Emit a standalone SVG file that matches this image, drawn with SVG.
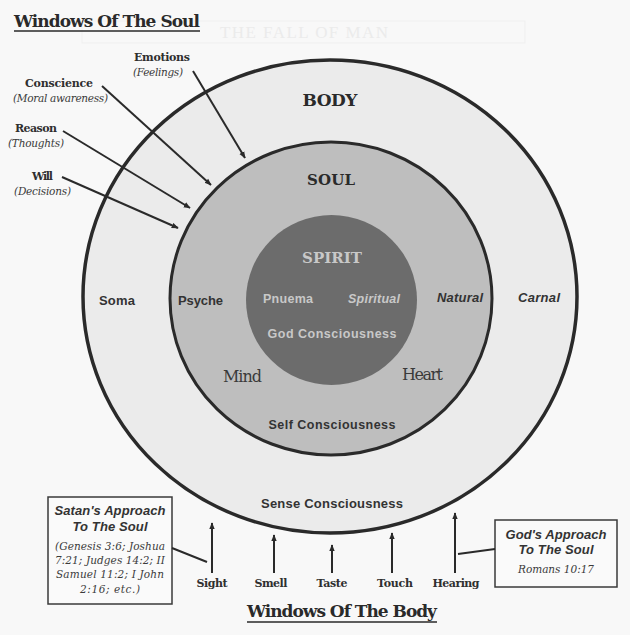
<svg xmlns="http://www.w3.org/2000/svg" width="630" height="635" viewBox="0 0 630 635">
<defs>
<marker id="ah" viewBox="0 0 10 10" refX="9" refY="5" markerWidth="7" markerHeight="7" markerUnits="userSpaceOnUse" orient="auto">
<path d="M0,1 L10,5 L0,9 Z" fill="#2a2a2a"/>
</marker>
<style>
.ttl{font-family:"DejaVu Serif","Liberation Serif",serif;font-weight:bold;fill:#2a2a2a}
.lbl{font-family:"DejaVu Serif","Liberation Serif",serif;font-weight:bold;font-size:11px;fill:#2f2f2f}
.sub{font-family:"DejaVu Serif","Liberation Serif",serif;font-style:italic;font-size:10.5px;fill:#3a3a3a}
.sans{font-family:"Liberation Sans",Arial,sans-serif;font-weight:bold;fill:#333}
.sansi{font-family:"Liberation Sans",Arial,sans-serif;font-weight:bold;font-style:italic;fill:#333}
.serif{font-family:"DejaVu Serif","Liberation Serif",serif;fill:#3a3a3a}
.ln{stroke:#2a2a2a;stroke-width:2;fill:none}
.arr{stroke:#2a2a2a;stroke-width:2;fill:none;marker-end:url(#ah)}
.box{fill:#fafafa;stroke:#3a3a3a;stroke-width:1.5}
.spt{fill:#c8c8c8}
</style>
</defs>
<rect width="630" height="635" fill="#f8f8f8"/>
<g id="faint">
<rect x="82" y="21" width="443" height="22" fill="none" stroke="#efefef" stroke-width="1"/>
<text x="220" y="38" font-family="Liberation Serif,serif" font-size="17" fill="#ebebeb" textLength="168">THE FALL OF MAN</text>
</g>
<g id="title-soul">
<text class="ttl" x="14" y="27" font-size="17" textLength="186">Windows Of The Soul</text>
<line x1="14" y1="31" x2="200" y2="31" stroke="#2a2a2a" stroke-width="1.5"/>
</g>
<g id="body">
<ellipse cx="330" cy="296.5" rx="247" ry="236.5" fill="#ebebeb" stroke="#2a2a2a" stroke-width="3.5"/>
<text class="ttl" x="330" y="106" font-size="17" text-anchor="middle" textLength="55">BODY</text>
<text class="sans" x="99" y="305" font-size="13" textLength="36">Soma</text>
<text class="sansi" x="518" y="302" font-size="13" textLength="42">Carnal</text>
<text class="sans" x="332" y="508" font-size="13" text-anchor="middle" textLength="142">Sense Consciousness</text>
</g>
<g id="soul">
<ellipse cx="331" cy="298.5" rx="161" ry="156.5" fill="#bebebe" stroke="#2a2a2a" stroke-width="3"/>
<text class="ttl" x="331" y="185" font-size="15" text-anchor="middle" fill="#404040" textLength="48">SOUL</text>
<text class="sans" x="178" y="305" font-size="13" textLength="45">Psyche</text>
<text class="sansi" x="437" y="302" font-size="13" textLength="46">Natural</text>
<text class="serif" x="223" y="382" font-size="16" textLength="39">Mind</text>
<text class="serif" x="402" y="380" font-size="16" textLength="41">Heart</text>
<text class="sans" x="332" y="429" font-size="12.5" text-anchor="middle" textLength="127">Self Consciousness</text>
</g>
<g id="spirit">
<ellipse cx="331.5" cy="300" rx="85.5" ry="85" fill="#6c6c6c"/>
<text class="ttl spt" x="332" y="263" font-size="15" text-anchor="middle" textLength="60">SPIRIT</text>
<text class="sans spt" x="263" y="303" font-size="12.5" textLength="50">Pnuema</text>
<text class="sansi spt" x="348" y="303" font-size="12.5" textLength="52">Spiritual</text>
<text class="sans spt" x="332" y="338" font-size="12.5" text-anchor="middle" textLength="129">God Consciousness</text>
</g>
<g id="soul-windows">
<g id="emotions"><text class="lbl" x="134" y="61" textLength="56">Emotions</text><text class="sub" x="133" y="76" textLength="50">(Feelings)</text></g>
<g id="conscience"><text class="lbl" x="25" y="87" textLength="68">Conscience</text><text class="sub" x="13" y="102" textLength="95">(Moral awareness)</text></g>
<g id="reason"><text class="lbl" x="15" y="132" textLength="42">Reason</text><text class="sub" x="8" y="147" textLength="56">(Thoughts)</text></g>
<g id="will"><text class="lbl" x="32" y="180" textLength="21">Will</text><text class="sub" x="14" y="195" textLength="57">(Decisions)</text></g>
</g>
<g id="satan-box">
<rect class="box" x="48" y="497" width="124" height="107"/>
<text class="sansi" x="110" y="515" font-size="13" text-anchor="middle" textLength="111">Satan's Approach</text>
<text class="sansi" x="110" y="531" font-size="13" text-anchor="middle" textLength="75">To The Soul</text>
<text class="sub" x="110" y="550" text-anchor="middle" textLength="110">(Genesis 3:6; Joshua</text>
<text class="sub" x="110" y="564" text-anchor="middle" textLength="110">7:21; Judges 14:2; II</text>
<text class="sub" x="110" y="578" text-anchor="middle" textLength="108">Samuel 11:2; I John</text>
<text class="sub" x="110" y="593" text-anchor="middle" textLength="60">2:16; etc.)</text>
</g>
<g id="god-box">
<rect class="box" x="495" y="520" width="122" height="67"/>
<text class="sansi" x="556" y="539" font-size="13" text-anchor="middle" textLength="101">God's Approach</text>
<text class="sansi" x="556" y="554" font-size="13" text-anchor="middle" textLength="75">To The Soul</text>
<text class="sub" x="556" y="573" text-anchor="middle" font-family="Liberation Sans,sans-serif" font-size="11.5" textLength="76">Romans 10:17</text>
</g>
<g id="senses">
<g id="sight"><text class="lbl" x="212" y="587" text-anchor="middle" textLength="31">Sight</text></g>
<g id="smell"><text class="lbl" x="271" y="587" text-anchor="middle" textLength="33">Smell</text></g>
<g id="taste"><text class="lbl" x="332" y="587" text-anchor="middle" textLength="31">Taste</text></g>
<g id="touch"><text class="lbl" x="395" y="587" text-anchor="middle" textLength="36">Touch</text></g>
<g id="hearing"><text class="lbl" x="456" y="587" text-anchor="middle" textLength="47">Hearing</text></g>
</g>
<g id="title-body">
<text class="ttl" x="247" y="617" font-size="17" textLength="190">Windows Of The Body</text>
<line x1="247" y1="622" x2="437" y2="622" stroke="#2a2a2a" stroke-width="1.5"/>
</g>
<g id="connectors">
<line class="arr" x1="193" y1="71" x2="245" y2="158"/>
<line class="arr" x1="102" y1="86" x2="211" y2="185"/>
<line class="arr" x1="63" y1="131" x2="190" y2="208"/>
<line class="arr" x1="62" y1="177" x2="178" y2="228"/>
<line class="arr" x1="212" y1="573" x2="212" y2="523"/>
<line class="arr" x1="274" y1="573" x2="274" y2="535"/>
<line class="arr" x1="332" y1="573" x2="332" y2="545"/>
<line class="arr" x1="392" y1="573" x2="392" y2="533"/>
<line class="arr" x1="455" y1="573" x2="455" y2="513"/>
<line class="ln" x1="172" y1="548" x2="207" y2="562" stroke-width="1.5"/>
<line class="ln" x1="458" y1="554" x2="495" y2="549" stroke-width="1.5"/>
</g>
</svg>
